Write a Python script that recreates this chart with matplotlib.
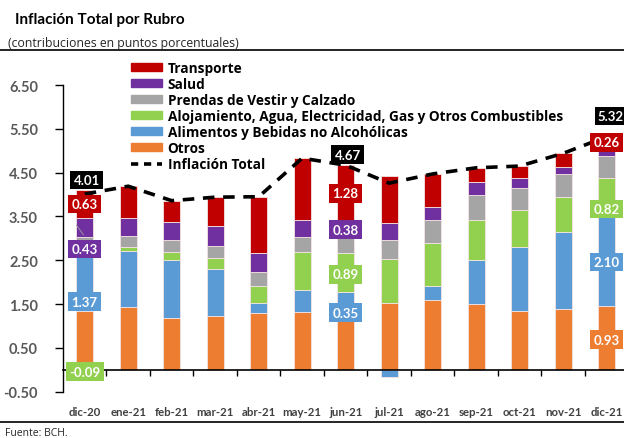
import matplotlib.pyplot as plt
import matplotlib.patches as mpatches
from matplotlib.lines import Line2D
import numpy as np

plt.rcParams['font.family'] = ['Lato', 'DejaVu Sans']

# Data
months = ['dic-20', 'ene-21', 'feb-21', 'mar-21', 'abr-21', 'may-21', 'jun-21',
          'jul-21', 'ago-21', 'sep-21', 'oct-21', 'nov-21', 'dic-21']
otros      = [1.35, 1.43, 1.18, 1.22, 1.30, 1.31, 1.42, 1.53, 1.59, 1.50, 1.34, 1.38, 1.45]
alimentos  = [1.37, 1.27, 1.33, 1.08, 0.22, 0.50, 0.35, -0.17, 0.33, 1.00, 1.47, 1.76, 2.10]
alojamiento = [-0.09, 0.10, 0.17, 0.25, 0.39, 0.87, 0.89, 1.00, 0.97, 0.92, 0.84, 0.80, 0.82]
prendas    = [0.32, 0.26, 0.28, 0.28, 0.32, 0.35, 0.35, 0.43, 0.54, 0.56, 0.51, 0.53, 0.52]
salud      = [0.43, 0.40, 0.42, 0.46, 0.43, 0.39, 0.38, 0.39, 0.28, 0.30, 0.21, 0.16, 0.17]
transporte = [0.63, 0.73, 0.48, 0.65, 1.29, 1.41, 1.28, 1.08, 0.76, 0.33, 0.28, 0.31, 0.26]
total      = [4.01, 4.19, 3.86, 3.94, 3.95, 4.83, 4.67, 4.26, 4.47, 4.61, 4.65, 4.94, 5.32]

series = [
    ('Otros', otros, '#ED7D31'),
    ('Alimentos y Bebidas no Alcohólicas', alimentos, '#5B9BD5'),
    ('Alojamiento, Agua, Electricidad, Gas y Otros Combustibles', alojamiento, '#92D050'),
    ('Prendas de Vestir y Calzado', prendas, '#A5A5A5'),
    ('Salud', salud, '#7030A0'),
    ('Transporte', transporte, '#C00000'),
]

# data labels shown on the chart: (month index, series index, text, y shift)
labels = [
    (0, 5, '0.63', 0.0), (0, 4, '0.43', -0.50), (0, 1, '1.37', -0.48), (0, 2, '-0.09', 0.0),
    (6, 5, '1.28', 0.0), (6, 4, '0.38', 0.0), (6, 2, '0.89', -0.04), (6, 1, '0.35', -0.29),
    (12, 5, '0.26', 0.0), (12, 2, '0.82', -0.29), (12, 1, '2.10', -0.04), (12, 0, '0.93', -0.04),
]
total_labels = [(0, 0.32), (6, 0.24), (12, 0.47)]

x = np.arange(len(months))
fig = plt.figure(figsize=(6.24, 4.39), dpi=100)
ax = fig.add_axes([63 / 624, 1 - 392.7 / 439, 561 / 624, 306.7 / 439])

pos_base = np.zeros(len(months))
neg_base = np.zeros(len(months))
bottoms = []
for name, vals, col in series:
    vals = np.array(vals)
    b = np.where(vals >= 0, pos_base, neg_base)
    ax.bar(x, vals, 0.39, bottom=b, color=col, edgecolor='#F4E4E4', linewidth=0.6, zorder=2)
    bottoms.append(b)
    pos_base = pos_base + np.where(vals >= 0, vals, 0)
    neg_base = neg_base + np.where(vals < 0, vals, 0)

ax.plot(x, total, color='black', linewidth=2.6, dashes=(3.2, 2.4), zorder=3)

# leader line of the moved Salud label in dic-20
ax.plot([x[0] - 0.19, x[0] - 0.03], [3.30, 3.08], color='#A0A0A0', linewidth=0.6, zorder=4)

for i, s, txt, dy in labels:
    vals = series[s][1]
    yc = bottoms[s][i] + vals[i] / 2 + dy
    ax.text(x[i], yc, txt, ha='center', va='center', color='white', fontsize=9.5,
            fontweight='bold', zorder=5,
            bbox=dict(boxstyle='square,pad=0.25', fc=series[s][2], ec='none'))
for i, dy in total_labels:
    ax.text(x[i] + (0.1 if i == 12 else 0.05), total[i] + dy, f'{total[i]:.2f}', ha='center',
            va='center', color='white', fontsize=9.5, fontweight='bold', zorder=5,
            bbox=dict(boxstyle='square,pad=0.25', fc='black', ec='none'))

ax.set_xlim(-0.5, 12.4)
ax.set_ylim(-0.5, 6.5)
ax.set_yticks(np.arange(-0.5, 6.6, 1.0))
ax.set_yticklabels([f'{v:.2f}' for v in np.arange(-0.5, 6.6, 1.0)])
ax.tick_params(axis='y', length=6, width=1, pad=12, labelsize=10.5, labelcolor='#595959')
for t in ax.get_yticklabels():
    t.set_fontweight('bold')

ax.spines['top'].set_visible(False)
ax.spines['right'].set_visible(False)
ax.spines['bottom'].set_position(('data', 0))
ax.spines['bottom'].set_linewidth(1.2)
ax.spines['left'].set_linewidth(1.0)
ax.set_xticks(x)
ax.set_xticklabels(months)
ax.set_xticks(x[:-1] + 0.5, minor=True)
ax.tick_params(axis='x', which='major', length=0, pad=26, labelsize=8.2, labelcolor='#404040')
ax.tick_params(axis='x', which='minor', length=4, width=1)
for t in ax.get_xticklabels():
    t.set_fontweight('bold')

handles = [mpatches.Patch(color=c, label=n) for n, _, c in series[::-1]]
handles.append(Line2D([], [], color='black', linewidth=2.6, dashes=(2.0, 1.6), label='Inflación Total'))
leg = ax.legend(handles=handles, loc='upper left', bbox_to_anchor=(131 / 624, 1 - 62 / 439),
                bbox_transform=fig.transFigure, frameon=False, borderpad=0,
                borderaxespad=0, handlelength=2.3, handleheight=0.5, handletextpad=0.4,
                labelspacing=0.15, prop={'family': ['Open Sans', 'DejaVu Sans'],
                                         'weight': 'bold', 'size': 9.8})

fig.text(15 / 624, 1 - 20 / 439, 'Inflación Total por Rubro', fontsize=11, fontweight='bold',
         va='center', ha='left')
fig.text(8 / 624, 1 - 43 / 439, '(contribuciones en puntos porcentuales)', fontsize=8.8,
         va='center', ha='left', color='#262626', family=['Open Sans', 'DejaVu Sans'])
fig.add_artist(Line2D([0, 1], [1 - 51 / 439, 1 - 51 / 439], color='black', linewidth=1.2))
fig.add_artist(Line2D([0, 1], [1 - 423 / 439, 1 - 423 / 439], color='black', linewidth=1.2))
fig.text(5 / 624, 1 - 434 / 439, 'Fuente: BCH.', fontsize=7.5, va='center', ha='left',
         color='#262626', family=['Open Sans', 'DejaVu Sans'])

fig.savefig('out.png', dpi=100)
